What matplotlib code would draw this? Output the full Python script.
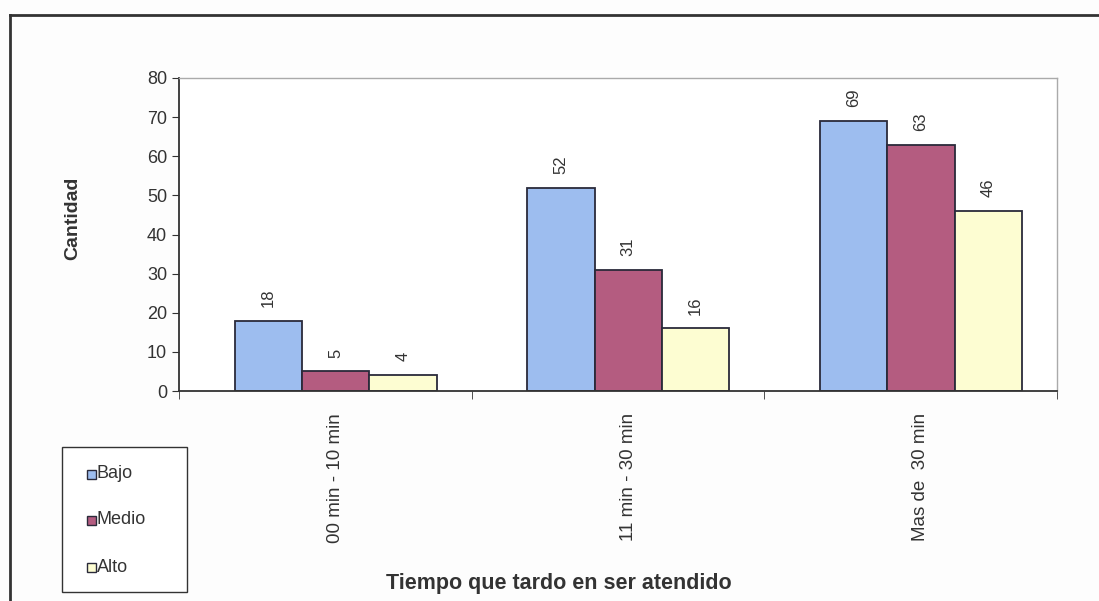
import numpy as np
import matplotlib.pyplot as plt
from matplotlib.lines import Line2D
from matplotlib.patches import Rectangle

plt.rcParams['font.family'] = ['Liberation Sans', 'DejaVu Sans']

# tiempo de espera por nivel
categorias = ['00 min - 10 min', '11 min - 30 min', 'Mas de  30 min']
niveles = ['Bajo', 'Medio', 'Alto']
bajo = [18, 52, 69]
medio = [5, 31, 63]
alto = [4, 16, 46]
colores = ['#9dbdef', '#b45c80', '#fdfdd2']
borde = '#2a2a3a'
texto = '#333333'

W, H = 1099, 601
fig = plt.figure(figsize=(W/100, H/100), dpi=100)
fig.patch.set_facecolor('#fdfdfd')

def px(x0, y0, x1, y1):
    # caja en pixeles (origen arriba a la izquierda) -> coordenadas de figura
    return [x0/W, 1-y1/H, (x1-x0)/W, (y1-y0)/H]

ax = fig.add_axes(px(179, 78, 1057, 391))

x = np.arange(len(categorias))
ancho = 0.23
corr = 0.035
series = [bajo, medio, alto]
for i, (vals, nombre, col) in enumerate(zip(series, niveles, colores)):
    pos = x + (i - 1) * ancho
    barras = ax.bar(pos, vals, ancho, color=col, edgecolor=borde,
                    linewidth=1.3, label=nombre)
    for b, v in zip(barras, vals):
        ax.annotate(str(v), (b.get_x() + b.get_width()/2, v),
                    xytext=(0, 10), textcoords='offset points',
                    ha='center', va='bottom', rotation=90,
                    fontsize=12, color=texto)

ax.set_xlim(-0.5 - corr, 2.5 - corr)
ax.set_ylim(0, 80)
ax.set_yticks(range(0, 81, 10))
ax.tick_params(axis='y', labelsize=13, colors=texto, length=5, direction='out')
ax.set_xticks(x)
ax.set_xticklabels(categorias, rotation=90, fontsize=13.5, color=texto)
ax.tick_params(axis='x', length=0, pad=16)
ax.set_xticks([-0.5 - corr, 0.5 - corr, 1.5 - corr, 2.5 - corr], minor=True)
ax.tick_params(axis='x', which='minor', length=6, color=texto)

for s in ['left', 'bottom']:
    ax.spines[s].set_color(texto)
    ax.spines[s].set_linewidth(1.3)
for s in ['top', 'right']:
    ax.spines[s].set_color('#aaaaaa')
    ax.spines[s].set_linewidth(1.0)

fig.text(73/W, 1-218/H, 'Cantidad', fontsize=14, fontweight='bold', color=texto,
         rotation=90, ha='center', va='center')
fig.text(559/W, 1-583/H, 'Tiempo que tardo en ser atendido', fontsize=15.5,
         fontweight='bold', color=texto, ha='center', va='center')

# leyenda en la esquina inferior izquierda
fig.add_artist(Rectangle((62/W, 1-592/H), 125/W, 145/H, transform=fig.transFigure,
                         facecolor='white', edgecolor=texto, linewidth=1.0))
for nombre, col, yc in zip(niveles, colores, [474, 520, 567]):
    fig.add_artist(Rectangle((87/W, 1-(yc+4.5)/H), 9/W, 9/H, transform=fig.transFigure,
                             facecolor=col, edgecolor=borde, linewidth=1.0))
    fig.text(97/W, 1-yc/H, nombre, fontsize=13, color=texto, ha='left', va='center')

# marco exterior
fig.add_artist(Line2D([10/W, 1], [1-15/H, 1-15/H], color=texto, linewidth=2))
fig.add_artist(Line2D([10/W, 10/W], [0, 1-15/H], color=texto, linewidth=2))

fig.savefig('out.png', dpi=100, facecolor=fig.get_facecolor())
